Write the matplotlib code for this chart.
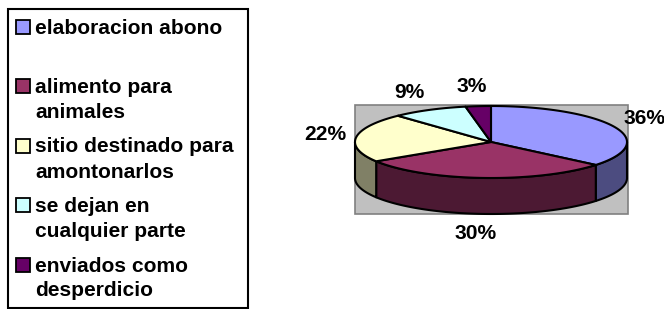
import numpy as np
import matplotlib
matplotlib.use("Agg")
import matplotlib.pyplot as plt
from matplotlib.patches import Polygon, Rectangle

categories = ["elaboracion abono", "alimento para\nanimales", "sitio destinado para\namontonarlos",
              "se dejan en\ncualquier parte", "enviados como\ndesperdicio"]
values = [36, 30, 22, 9, 3]
top_colors = ["#9999FF", "#993366", "#FFFFCC", "#CCFFFF", "#660066"]
side_colors = ["#4C4C80", "#4C1933", "#808066", "#668080", "#330033"]
pct_labels = ["36%", "30%", "22%", "9%", "3%"]

W, H = 664, 309
fig = plt.figure(figsize=(W / 100, H / 100), dpi=100)
ax = fig.add_axes([0, 0, 1, 1])
ax.set_xlim(0, W)
ax.set_ylim(H, 0)
ax.axis("off")

FONT = dict(family=["Liberation Sans", "DejaVu Sans"], fontweight="bold", fontsize=15.1)

# pie geometry (pixels)
cx, cy, a, b, depth = 491, 142, 136, 36, 36
lw = 1.5

# gray plot-area background
ax.add_patch(Rectangle((355, 105), 273, 109, facecolor="#C0C0C0", edgecolor="#808080", lw=1.2, zorder=1))

def pt(theta_deg, dy=0.0):
    t = np.radians(theta_deg)
    return cx + a * np.sin(t), cy - b * np.cos(t) + dy

total = float(sum(values))
bounds = np.concatenate([[0], np.cumsum(values) / total * 360.0])

# side faces (front half only: 90..270 deg clockwise from top)
for i in range(len(values)):
    t1, t2 = bounds[i], bounds[i + 1]
    s1, s2 = max(t1, 90), min(t2, 270)
    if s2 <= s1:
        continue
    th = np.linspace(s1, s2, 80)
    top = [pt(t) for t in th]
    bot = [pt(t, depth) for t in th[::-1]]
    ax.add_patch(Polygon(top + bot, closed=True, facecolor=side_colors[i], edgecolor="black",
                         lw=lw, joinstyle="round", zorder=2))

# top faces
for i in range(len(values)):
    t1, t2 = bounds[i], bounds[i + 1]
    th = np.linspace(t1, t2, 120)
    poly = [(cx, cy)] + [pt(t) for t in th]
    ax.add_patch(Polygon(poly, closed=True, facecolor=top_colors[i], edgecolor="black",
                         lw=lw, joinstyle="round", zorder=3))

# percentage labels
for i in range(len(values)):
    mid = np.radians((bounds[i] + bounds[i + 1]) / 2)
    s, c = np.sin(mid), np.cos(mid)
    x = cx + 146 * s
    y = cy - 56 * c + (depth if c < 0 else 0)
    ha = "left" if s > 0.3 else ("right" if s < -0.3 else "center")
    if ha == "center":
        x -= 6
    ax.text(x, y, pct_labels[i], ha=ha, va="center", color="black", zorder=5, **FONT)

# legend
ax.add_patch(Rectangle((8, 9), 240, 299, facecolor="white", edgecolor="black", lw=1.5, zorder=4))
base0, step, line = 34, 59.5, 25
for i, cat in enumerate(categories):
    by = base0 + i * step + (0 if i == 0 else 0)
    if i > 0:
        by = 93 + (i - 1) * step
    ax.add_patch(Rectangle((16, by - 14), 14, 14, facecolor=top_colors[i], edgecolor="black",
                           lw=1.3, zorder=5))
    for j, ln in enumerate(cat.split("\n")):
        ax.text(35, by + j * line, ln, ha="left", va="baseline", color="black", zorder=5, **FONT)

fig.savefig("out.png", dpi=100)
